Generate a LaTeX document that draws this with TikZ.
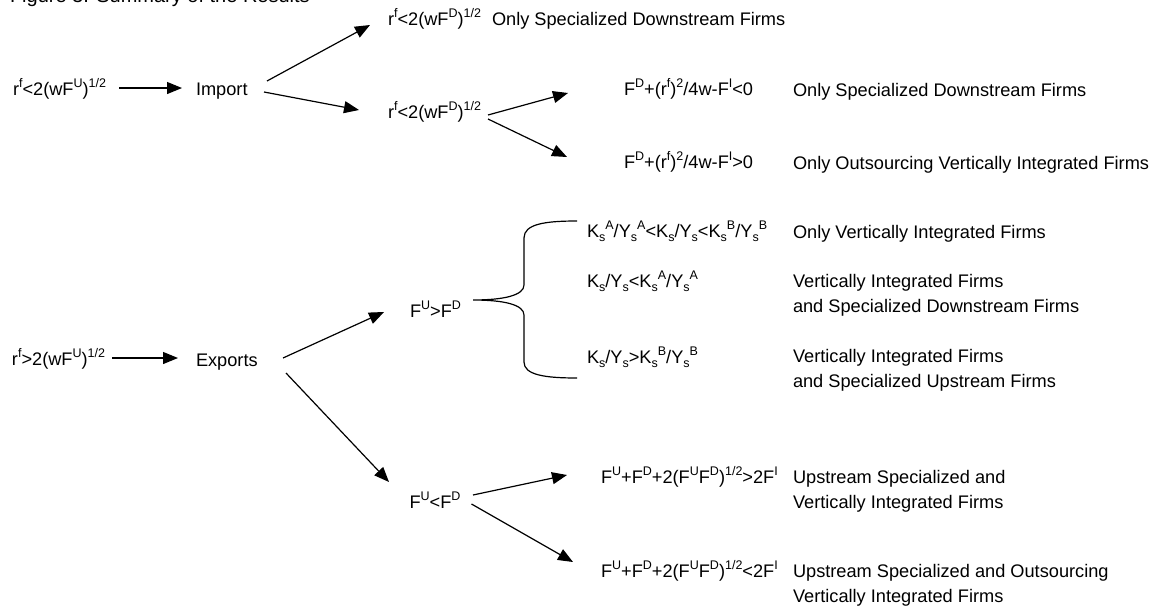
\documentclass[tikz,border=0pt]{standalone}
\usepackage{fontspec}
\setmainfont{Liberation Sans}
\usetikzlibrary{arrows.meta}
\newcommand\su[1]{\raisebox{8pt}{\fontsize{12.5}{12.5}\selectfont #1}}
\newcommand\sd[1]{\raisebox{-4pt}{\fontsize{12.5}{12.5}\selectfont #1}}
\newcommand\twol[2]{\begin{tabular}[t]{@{}l@{}}#1\\#2\end{tabular}}
\begin{document}
\begin{tikzpicture}[x=1pt,y=-1pt,
  font=\fontsize{18.2}{25.3}\selectfont,
  txt/.style={inner sep=0pt,outer sep=0pt,anchor=base west},
  arr/.style={line width=1.2pt,-{Triangle[length=15pt,width=12pt]}},
  bracestyle/.style={line width=1.2pt}]
\useasboundingbox (0,0) rectangle (1152,608);
% title (cut off at the top of the page, as in the reference)
\node[txt,font=\fontsize{20}{24}\selectfont] (title) at (10,2.5) {Figure 3: Summary of the Results};
% import branch
\node[txt] (a1) at (13,95.5) {r\su{f}<2(wF\su{U})\su{1/2}};
\node[txt] (imp) at (196,95.5) {Import};
\node[txt] (t1) at (388,25) {r\su{f}<2(wF\su{D})\su{1/2}};
\node[txt] (t1l) at (492,25) {Only Specialized Downstream Firms};
\node[txt] (m1) at (388,118) {r\su{f}<2(wF\su{D})\su{1/2}};
\node[txt] (f1) at (624,95) {F\su{D}+(r\su{f})\su{2}/4w-F\su{I}<0};
\node[txt] (f1l) at (793,96) {Only Specialized Downstream Firms};
\node[txt] (f2) at (624,168) {F\su{D}+(r\su{f})\su{2}/4w-F\su{I}>0};
\node[txt] (f2l) at (793,169) {Only Outsourcing Vertically Integrated Firms};
% export branch
\node[txt] (a2) at (12,365) {r\su{f}>2(wF\su{U})\su{1/2}};
\node[txt] (exp) at (196,366) {Exports};
\node[txt] (fud) at (410,317) {F\su{U}>F\su{D}};
\node[txt] (k1) at (587,237) {K\sd{s}\su{A}/Y\sd{s}\su{A}<K\sd{s}/Y\sd{s}<K\sd{s}\su{B}/Y\sd{s}\su{B}};
\node[txt] (k1l) at (793,238) {Only Vertically Integrated Firms};
\node[txt] (k2) at (587,287) {K\sd{s}/Y\sd{s}<K\sd{s}\su{A}/Y\sd{s}\su{A}};
\node[txt] (k2l) at (793,287) {\twol{Vertically Integrated Firms}{and Specialized Downstream Firms}};
\node[txt] (k3) at (587,363) {K\sd{s}/Y\sd{s}>K\sd{s}\su{B}/Y\sd{s}\su{B}};
\node[txt] (k3l) at (793,362) {\twol{Vertically Integrated Firms}{and Specialized Upstream Firms}};
\node[txt] (fdu) at (409.5,508) {F\su{U}<F\su{D}};
\node[txt] (g1) at (601,483) {F\su{U}+F\su{D}+2(F\su{U}F\su{D})\su{1/2}>2F\su{I}};
\node[txt] (g1l) at (793,483) {\twol{Upstream Specialized and}{Vertically Integrated Firms}};
\node[txt] (g2) at (601,577) {F\su{U}+F\su{D}+2(F\su{U}F\su{D})\su{1/2}<2F\su{I}};
\node[txt] (g2l) at (793,577) {\twol{Upstream Specialized and Outsourcing}{Vertically Integrated Firms}};
% connectors
\draw[arr] ([shift={(106,-7.5)}]a1.base west) -- ([shift={(-14,-7.5)}]imp.base west);
\draw[arr] ([shift={(71,-14.5)}]imp.base west) -- ([shift={(-18,0)}]t1.base west);
\draw[arr] ([shift={(68,-3.5)}]imp.base west) -- ([shift={(-29,-8)}]m1.base west);
\draw[arr] ([shift={(100,-3)}]m1.base west) -- ([shift={(-56,-2)}]f1.base west);
\draw[arr] ([shift={(100,1)}]m1.base west) -- ([shift={(-57,-11)}]f2.base west);
\draw[arr] ([shift={(100,-7)}]a2.base west) -- ([shift={(-18,-8)}]exp.base west);
\draw[arr] ([shift={(87,-8)}]exp.base west) -- ([shift={(-26,-5)}]fud.base west);
\draw[arr] ([shift={(90,7)}]exp.base west) -- ([shift={(-20.5,-26)}]fdu.base west);
\draw[arr] ([shift={(63.5,-13)}]fdu.base west) -- ([shift={(-34,-8)}]g1.base west);
\draw[arr] ([shift={(62,-4)}]fdu.base west) -- ([shift={(-28,-15)}]g2.base west);
% brace
\draw[bracestyle] (577,221) .. controls (545,221) and (524,224) .. (524,238)
  -- (524,285) .. controls (524,295) and (505,300) .. (473,300)
  .. controls (505,300) and (524,305) .. (524,315)
  -- (524,362) .. controls (524,375) and (545,378) .. (577,378);
\end{tikzpicture}
\end{document}
